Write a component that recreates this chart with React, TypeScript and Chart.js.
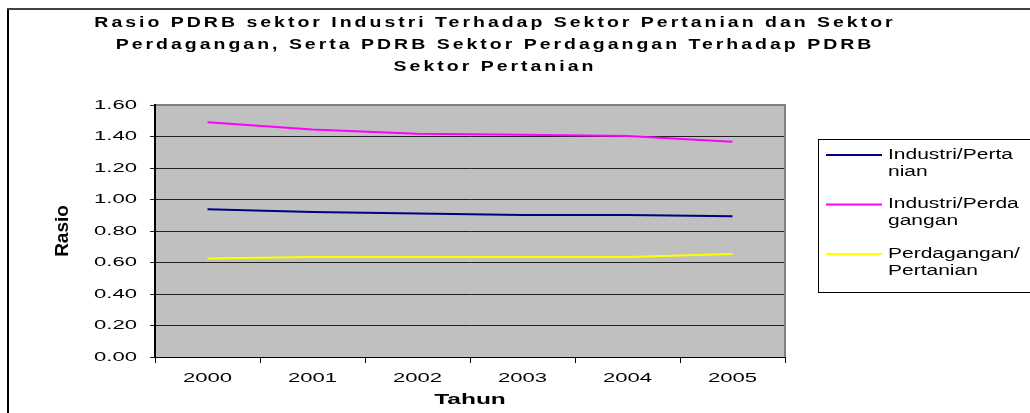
import React, { useEffect, useRef } from 'react';
import { Chart, registerables } from 'chart.js';

Chart.register(...registerables);

// ---- data ----
const years = ['2000', '2001', '2002', '2003', '2004', '2005'];
const industriPertanian = [0.938, 0.921, 0.911, 0.902, 0.902, 0.894];
const industriPerdagangan = [1.49, 1.445, 1.418, 1.411, 1.403, 1.367];
const perdaganganPertanian = [0.626, 0.635, 0.635, 0.635, 0.635, 0.654];
const seriesNames = ['Industri/Pertanian', 'Industri/Perdagangan', 'Perdagangan/Pertanian'];
const legendLines = [
  ['Industri/Perta', 'nian'],
  ['Industri/Perda', 'gangan'],
  ['Perdagangan/', 'Pertanian'],
];
const seriesColors = ['#000080', '#ff00ff', '#ffff00'];
const yTickValues = [0, 0.2, 0.4, 0.6, 0.8, 1.0, 1.2, 1.4, 1.6];
const titleLines = [
  'Rasio PDRB sektor Industri Terhadap Sektor Pertanian dan Sektor',
  'Perdagangan, Serta PDRB Sektor Perdagangan Terhadap PDRB',
  'Sektor Pertanian',
];
const xTitle = 'Tahun';
const yTitle = 'Rasio';

const FONT = "'Liberation Sans', Arial, sans-serif";

// horizontal stretch / letter spacing per text style (the reference is a stretched Excel chart)
const TEXT_STYLES: Record<string, { f: number; sp: number }> = {
  b15: { f: 1.3, sp: 2.3 },
  n13: { f: 1.7, sp: 0 },
  b14: { f: 1.75, sp: 0 },
  b19: { f: 1, sp: 0 },
  n14: { f: 1.5, sp: 0 },
};

function patchText(ctx: any) {
  if (!ctx || ctx.__patched) return;
  ctx.__patched = true;
  const orig = CanvasRenderingContext2D.prototype.fillText;
  ctx.fillText = function (text: string, x: number, y: number, maxWidth?: number) {
    const font: string = this.font;
    const m = /(\d+(?:\.\d+)?)px/.exec(font);
    const bold = /bold|\b[6-9]00\b/.test(font);
    const key = (bold ? 'b' : 'n') + (m ? Math.round(parseFloat(m[1])) : '');
    const st = TEXT_STYLES[key];
    if (!st) return orig.call(this, text, x, y, maxWidth);
    this.save();
    if ('letterSpacing' in this) this.letterSpacing = st.sp + 'px';
    this.translate(x, y);
    this.scale(st.f, 1);
    orig.call(this, text, 0, 0);
    this.restore();
  };
}

const framePlugin = {
  id: 'frame',
  beforeDraw(chart: any) {
    const { ctx, chartArea: a } = chart;
    ctx.save();
    ctx.fillStyle = '#c0c0c0';
    ctx.fillRect(a.left, a.top, a.right - a.left, a.bottom - a.top);
    ctx.fillStyle = '#000';
    ctx.fillRect(7, 8, 2, chart.height - 8);
    ctx.fillStyle = '#404040';
    ctx.fillRect(7, 8, chart.width - 7, 2);
    ctx.restore();
  },
  beforeDatasetsDraw(chart: any) {
    const { ctx, chartArea: a } = chart;
    ctx.save();
    ctx.fillStyle = '#808080';
    ctx.fillRect(a.left + 1, a.top - 1, a.right - a.left, 2);
    ctx.fillRect(a.right - 1, a.top - 1, 2, a.bottom - a.top + 1);
    ctx.restore();
  },
};

const legendPlugin = {
  id: 'sideLegend',
  afterDraw(chart: any) {
    const { ctx, chartArea: a } = chart;
    const bx = a.right + 33;
    const by = a.top + 34;
    const bh = 153;
    ctx.save();
    ctx.fillStyle = '#fff';
    ctx.fillRect(bx, by, chart.width - bx + 10, bh);
    ctx.strokeStyle = '#000';
    ctx.lineWidth = 1;
    ctx.strokeRect(bx + 0.5, by + 0.5, chart.width, bh);
    ctx.font = `14px ${FONT}`;
    ctx.textBaseline = 'middle';
    ctx.textAlign = 'left';
    chart.data.datasets.forEach((ds: any, i: number) => {
      const y = by + 16 + i * 49.5;
      ctx.strokeStyle = ds.borderColor;
      ctx.lineWidth = 2;
      ctx.beginPath();
      ctx.moveTo(bx + 8, y);
      ctx.lineTo(bx + 64, y);
      ctx.stroke();
      ctx.fillStyle = '#000';
      legendLines[i].forEach((t, k) => ctx.fillText(t, bx + 70, y + k * 17));
    });
    ctx.restore();
  },
};

export default function App() {
  const ref = useRef<HTMLCanvasElement>(null);
  useEffect(() => {
    const canvas = ref.current!;
    patchText(canvas.getContext('2d'));
    const seriesData = [industriPertanian, industriPerdagangan, perdaganganPertanian];
    const chart = new Chart(canvas, {
      type: 'line',
      data: {
        labels: years,
        datasets: seriesData.map((d, i) => ({
          label: seriesNames[i],
          data: d,
          borderColor: seriesColors[i],
          backgroundColor: seriesColors[i],
          borderWidth: 2,
          pointRadius: 0,
          tension: 0,
          yAxisID: 'y',
        })),
      },
      options: {
        responsive: true,
        maintainAspectRatio: false,
        animation: false,
        layout: { padding: { left: 0, right: 40, top: 0, bottom: 0 } },
        plugins: {
          legend: { display: false },
          tooltip: { enabled: false },
          title: {
            display: true,
            text: titleLines,
            color: '#000',
            font: { family: FONT, size: 15, weight: 'bold', lineHeight: 22 / 15 },
            padding: { top: 12, bottom: 27 },
          },
        },
        scales: {
          x: {
            type: 'category',
            offset: true,
            grid: { offset: true, drawOnChartArea: false, drawTicks: true, tickLength: 6, color: '#000' },
            border: { color: '#000', width: 1 },
            ticks: { color: '#000', font: { family: FONT, size: 13 }, padding: 8, maxRotation: 0, autoSkip: false },
            title: {
              display: true,
              text: xTitle,
              color: '#000',
              font: { family: FONT, size: 14, weight: 'bold' },
              padding: { top: 0, bottom: 4 },
            },
            afterFit: (s: any) => { s.height = 56; },
          },
          y: {
            type: 'linear',
            min: 0,
            max: 1.6,
            afterBuildTicks: (s: any) => { s.ticks = yTickValues.map((v) => ({ value: v })); },
            grid: { color: '#202020', tickLength: 5, drawTicks: true, lineWidth: 1 },
            border: { color: '#000', width: 2 },
            ticks: {
              color: '#000',
              font: { family: FONT, size: 13 },
              padding: 13,
              callback: (v: any) => Number(v).toFixed(2),
            },
            title: {
              display: true,
              text: yTitle,
              color: '#000',
              font: { family: FONT, size: 19, weight: 'bold' },
              padding: { top: 51, bottom: 0 },
            },
            afterFit: (s: any) => { s.width = 155; },
          },
          yR: {
            type: 'linear',
            position: 'right',
            display: true,
            grid: { display: false, drawTicks: false },
            border: { display: false },
            ticks: { display: false },
            afterFit: (s: any) => { s.width = 205; },
          },
        },
      } as any,
      plugins: [framePlugin, legendPlugin],
    });
    return () => chart.destroy();
  }, []);
  return (
    <div style={{ position: 'fixed', left: 0, top: 0, width: 1030, height: 413, background: '#fff' }}>
      <canvas ref={ref} />
    </div>
  );
}
